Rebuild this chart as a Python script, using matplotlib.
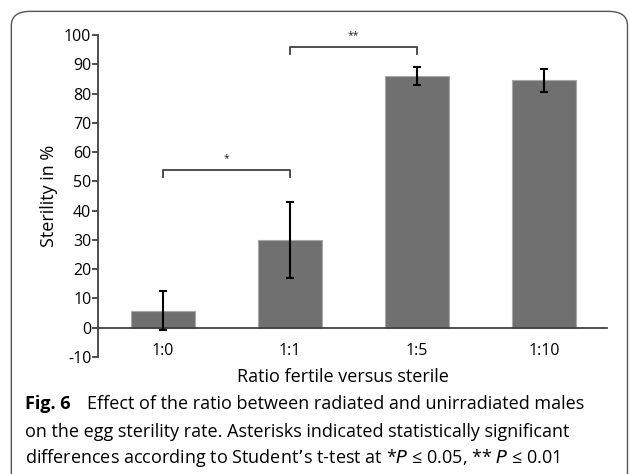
import matplotlib.pyplot as plt
from matplotlib.patches import FancyBboxPatch

plt.rcParams['font.family'] = ['Open Sans', 'DejaVu Sans']

# data
ratios = ['1:0', '1:1', '1:5', '1:10']
sterility = [5.8, 30.0, 86.0, 84.5]
err = [6.6, 13.0, 3.2, 4.0]
# significance brackets: (left idx, right idx, height, label)
brackets = [(0, 1, 54, '*'), (1, 2, 96, '**')]

fig = plt.figure(figsize=(6.3, 4.74), dpi=100)
ax = fig.add_axes([0.156, 0.247, 0.808, 0.679])

x = range(len(ratios))
ax.bar(x, sterility, width=0.5, color='#707070', edgecolor='#a8a8a8', linewidth=0.8, zorder=2)
ax.errorbar(x, sterility, yerr=err, fmt='none', ecolor='black', elinewidth=1.5,
            capsize=3, capthick=1.5, zorder=3)

for l, r, h, lab in brackets:
    ax.plot([l, l, r, r], [h - 2.5, h, h, h - 2.5], color='#404040', lw=1.3, zorder=3)
    ax.text((l + r) / 2, h + 2, lab, ha='center', va='bottom', fontsize=7.5, color='#222222')

ax.set_ylim(-10, 100)
ax.set_xlim(-0.51, 3.5)
ax.set_yticks(range(-10, 101, 10))
ax.set_yticklabels(['-10'] + [str(v) for v in range(0, 101, 10)])
ax.set_xticks(list(x))
ax.set_xticklabels(ratios)
ax.spines['top'].set_visible(False)
ax.spines['right'].set_visible(False)
ax.spines['bottom'].set_position(('data', 0))
for s in ['left', 'bottom']:
    ax.spines[s].set_color('#404040')
    ax.spines[s].set_linewidth(1.3)
ax.tick_params(axis='y', direction='out', length=4, width=1.3, color='#404040',
               labelsize=11.5, pad=1)
ax.tick_params(axis='x', length=0, labelsize=11.5, pad=11)
ax.set_ylabel('Sterility in %', fontsize=13, labelpad=4)

fig.text(0.545, 0.205, 'Ratio fertile versus sterile', ha='center', va='center', fontsize=13)

# caption
fig.text(0.040, 0.148, 'Fig. 6', ha='left', va='center', fontsize=13, fontweight='bold')
fig.text(0.138, 0.148, 'Effect of the ratio between radiated and unirradiated males',
         ha='left', va='center', fontsize=13)
fig.text(0.040, 0.088, 'on the egg sterility rate. Asterisks indicated statistically significant',
         ha='left', va='center', fontsize=13)
fig.text(0.040, 0.034,
         'differences according to Student\u2019s t-test at *$\\it{P}$ \u2264 0.05, ** $\\it{P}$ \u2264 0.01',
         ha='left', va='center', fontsize=13)

# frame
frame = FancyBboxPatch((0.018, -0.05), 0.978, 1.026, boxstyle='round,pad=0,rounding_size=0.03',
                       transform=fig.transFigure, fill=False, edgecolor='#555555', lw=1.0)
fig.patches.append(frame)

fig.savefig('out.png', dpi=100)
